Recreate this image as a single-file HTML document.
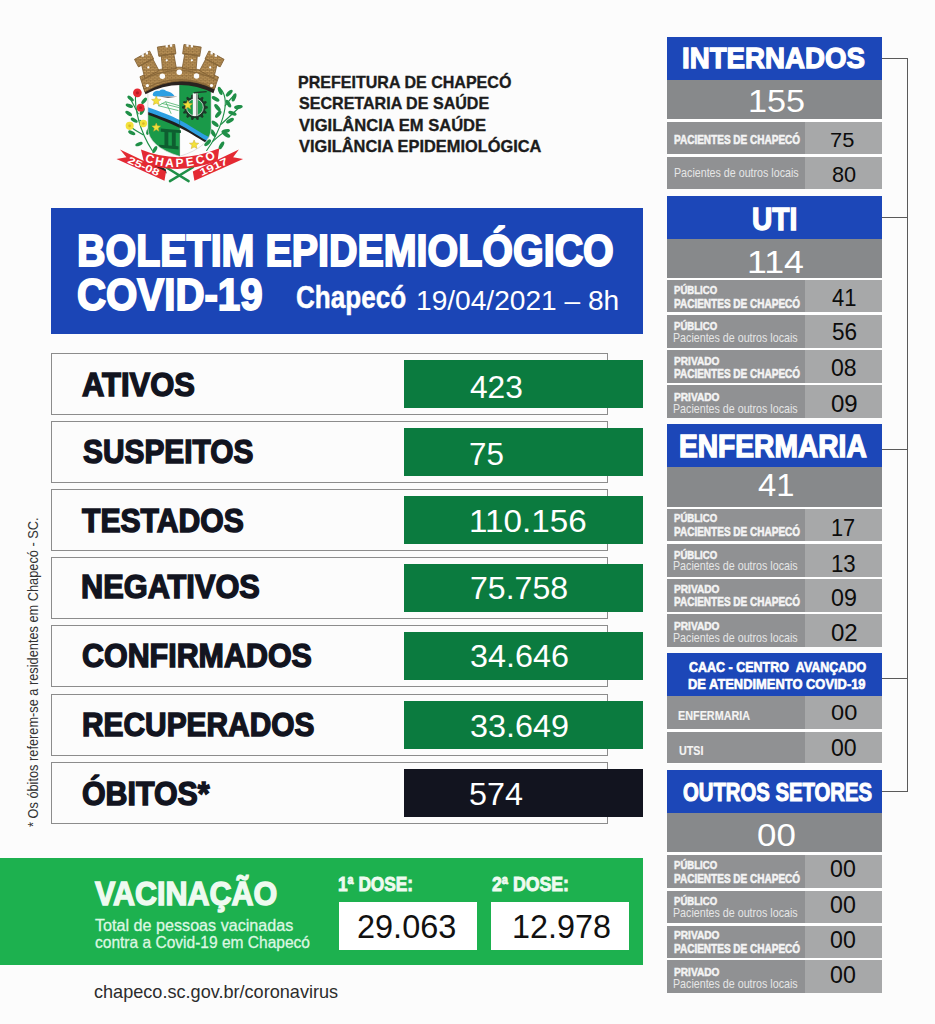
<!DOCTYPE html>
<html><head><meta charset="utf-8"><title>Boletim</title>
<style>
html,body{margin:0;padding:0}
body{width:935px;height:1024px;position:relative;overflow:hidden;background:#fcfcfc;font-family:"Liberation Sans",sans-serif}
.r{position:absolute}
.t{position:absolute;white-space:pre;line-height:1;transform-origin:0 0}
</style></head><body>
<div class="r" style="left:51.0px;top:207.5px;width:592.0px;height:126.8px;background:#1b45b6;"></div>
<div class="r" style="left:51.0px;top:353.0px;width:556.5px;height:61.5px;background:transparent;border:1px solid #8c8c8c;box-sizing:border-box;"></div>
<div class="r" style="left:404.0px;top:360.1px;width:239.0px;height:48.0px;background:#0b7b3f;"></div>
<div class="r" style="left:51.0px;top:421.0px;width:556.5px;height:61.5px;background:transparent;border:1px solid #8c8c8c;box-sizing:border-box;"></div>
<div class="r" style="left:404.0px;top:428.1px;width:239.0px;height:48.0px;background:#0b7b3f;"></div>
<div class="r" style="left:51.0px;top:489.0px;width:556.5px;height:61.5px;background:transparent;border:1px solid #8c8c8c;box-sizing:border-box;"></div>
<div class="r" style="left:404.0px;top:496.1px;width:239.0px;height:48.0px;background:#0b7b3f;"></div>
<div class="r" style="left:51.0px;top:557.0px;width:556.5px;height:61.5px;background:transparent;border:1px solid #8c8c8c;box-sizing:border-box;"></div>
<div class="r" style="left:404.0px;top:563.8px;width:239.0px;height:48.0px;background:#0b7b3f;"></div>
<div class="r" style="left:51.0px;top:625.0px;width:556.5px;height:61.5px;background:transparent;border:1px solid #8c8c8c;box-sizing:border-box;"></div>
<div class="r" style="left:404.0px;top:631.8px;width:239.0px;height:48.0px;background:#0b7b3f;"></div>
<div class="r" style="left:51.0px;top:694.0px;width:556.5px;height:61.5px;background:transparent;border:1px solid #8c8c8c;box-sizing:border-box;"></div>
<div class="r" style="left:404.0px;top:700.9px;width:239.0px;height:48.0px;background:#0b7b3f;"></div>
<div class="r" style="left:51.0px;top:762.0px;width:556.5px;height:61.5px;background:transparent;border:1px solid #8c8c8c;box-sizing:border-box;"></div>
<div class="r" style="left:404.0px;top:768.8px;width:239.0px;height:48.0px;background:#12141f;"></div>
<div class="r" style="left:0.0px;top:857.5px;width:642.7px;height:107.5px;background:#1db14f;"></div>
<div class="r" style="left:338.7px;top:901.8px;width:138.3px;height:48.2px;background:#fff;"></div>
<div class="r" style="left:491.0px;top:901.8px;width:138.4px;height:48.2px;background:#fff;"></div>
<div class="r" style="left:667.2px;top:119.4px;width:214.8px;height:69.7px;background:#fff;"></div>
<div class="r" style="left:667.2px;top:278.2px;width:214.8px;height:139.5px;background:#fff;"></div>
<div class="r" style="left:667.2px;top:506.8px;width:214.8px;height:140.0px;background:#fff;"></div>
<div class="r" style="left:667.2px;top:696.0px;width:214.8px;height:67.5px;background:#fff;"></div>
<div class="r" style="left:667.2px;top:852.4px;width:214.8px;height:140.6px;background:#fff;"></div>
<div class="r" style="left:667.2px;top:37.0px;width:214.8px;height:42.8px;background:#1c47b8;"></div>
<div class="r" style="left:667.2px;top:79.8px;width:214.8px;height:39.6px;background:#87898b;"></div>
<div class="r" style="left:667.2px;top:122.0px;width:137.8px;height:31.8px;background:#909193;"></div>
<div class="r" style="left:805.0px;top:122.0px;width:77.0px;height:31.8px;background:#a7a8a9;"></div>
<div class="r" style="left:667.2px;top:157.0px;width:137.8px;height:32.1px;background:#909193;"></div>
<div class="r" style="left:805.0px;top:157.0px;width:77.0px;height:32.1px;background:#a7a8a9;"></div>
<div class="r" style="left:667.2px;top:196.0px;width:214.8px;height:42.6px;background:#1c47b8;"></div>
<div class="r" style="left:667.2px;top:238.6px;width:214.8px;height:39.6px;background:#87898b;"></div>
<div class="r" style="left:667.2px;top:280.2px;width:137.8px;height:32.3px;background:#909193;"></div>
<div class="r" style="left:805.0px;top:280.2px;width:77.0px;height:32.3px;background:#a7a8a9;"></div>
<div class="r" style="left:667.2px;top:315.4px;width:137.8px;height:32.3px;background:#909193;"></div>
<div class="r" style="left:805.0px;top:315.4px;width:77.0px;height:32.3px;background:#a7a8a9;"></div>
<div class="r" style="left:667.2px;top:350.0px;width:137.8px;height:33.0px;background:#909193;"></div>
<div class="r" style="left:805.0px;top:350.0px;width:77.0px;height:33.0px;background:#a7a8a9;"></div>
<div class="r" style="left:667.2px;top:385.4px;width:137.8px;height:32.3px;background:#909193;"></div>
<div class="r" style="left:805.0px;top:385.4px;width:77.0px;height:32.3px;background:#a7a8a9;"></div>
<div class="r" style="left:667.2px;top:424.0px;width:214.8px;height:42.8px;background:#1c47b8;"></div>
<div class="r" style="left:667.2px;top:466.8px;width:214.8px;height:40.0px;background:#87898b;"></div>
<div class="r" style="left:667.2px;top:509.0px;width:137.8px;height:32.4px;background:#909193;"></div>
<div class="r" style="left:805.0px;top:509.0px;width:77.0px;height:32.4px;background:#a7a8a9;"></div>
<div class="r" style="left:667.2px;top:544.0px;width:137.8px;height:32.6px;background:#909193;"></div>
<div class="r" style="left:805.0px;top:544.0px;width:77.0px;height:32.6px;background:#a7a8a9;"></div>
<div class="r" style="left:667.2px;top:579.0px;width:137.8px;height:32.7px;background:#909193;"></div>
<div class="r" style="left:805.0px;top:579.0px;width:77.0px;height:32.7px;background:#a7a8a9;"></div>
<div class="r" style="left:667.2px;top:614.4px;width:137.8px;height:32.3px;background:#909193;"></div>
<div class="r" style="left:805.0px;top:614.4px;width:77.0px;height:32.3px;background:#a7a8a9;"></div>
<div class="r" style="left:667.2px;top:653.3px;width:214.8px;height:42.7px;background:#1c47b8;"></div>
<div class="r" style="left:667.2px;top:696.0px;width:137.8px;height:32.5px;background:#909193;"></div>
<div class="r" style="left:805.0px;top:696.0px;width:77.0px;height:32.5px;background:#a7a8a9;"></div>
<div class="r" style="left:667.2px;top:731.8px;width:137.8px;height:31.7px;background:#909193;"></div>
<div class="r" style="left:805.0px;top:731.8px;width:77.0px;height:31.7px;background:#a7a8a9;"></div>
<div class="r" style="left:667.2px;top:770.3px;width:214.8px;height:42.7px;background:#1c47b8;"></div>
<div class="r" style="left:667.2px;top:813.0px;width:214.8px;height:39.4px;background:#87898b;"></div>
<div class="r" style="left:667.2px;top:855.3px;width:137.8px;height:32.3px;background:#909193;"></div>
<div class="r" style="left:805.0px;top:855.3px;width:77.0px;height:32.3px;background:#a7a8a9;"></div>
<div class="r" style="left:667.2px;top:890.6px;width:137.8px;height:32.2px;background:#909193;"></div>
<div class="r" style="left:805.0px;top:890.6px;width:77.0px;height:32.2px;background:#a7a8a9;"></div>
<div class="r" style="left:667.2px;top:925.6px;width:137.8px;height:32.0px;background:#909193;"></div>
<div class="r" style="left:805.0px;top:925.6px;width:77.0px;height:32.0px;background:#a7a8a9;"></div>
<div class="r" style="left:667.2px;top:960.4px;width:137.8px;height:32.4px;background:#909193;"></div>
<div class="r" style="left:805.0px;top:960.4px;width:77.0px;height:32.4px;background:#a7a8a9;"></div>
<div class="r" style="left:907.0px;top:57.7px;width:1.0px;height:734.3px;background:#5a5a5a;"></div>
<div class="r" style="left:882.0px;top:57.7px;width:26.0px;height:1.0px;background:#5a5a5a;"></div>
<div class="r" style="left:882.0px;top:216.5px;width:26.0px;height:1.0px;background:#5a5a5a;"></div>
<div class="r" style="left:882.0px;top:448.5px;width:26.0px;height:1.0px;background:#5a5a5a;"></div>
<div class="r" style="left:882.0px;top:678.2px;width:26.0px;height:1.0px;background:#5a5a5a;"></div>
<div class="r" style="left:882.0px;top:791.0px;width:26.0px;height:1.0px;background:#5a5a5a;"></div>
<svg class="r" style="left:110px;top:30px" width="150" height="165" viewBox="0 0 931 1024">
<g fill="none" stroke="#1f8f47" stroke-width="7" stroke-linecap="round">
<path d="M262,748 Q205,660 178,560 T160,395"/>
<path d="M205,650 Q160,625 125,600"/>
<path d="M185,560 Q200,570 208,582"/>
<path d="M175,520 Q150,470 125,425"/>
<path d="M600,748 Q665,660 700,545 T692,372"/>
<path d="M690,585 Q750,530 805,478"/>
<path d="M715,470 Q745,430 770,405"/>
<path d="M640,690 Q690,640 735,620"/>
</g>
<ellipse cx="128" cy="425" rx="24" ry="11" fill="#1f8f47" transform="rotate(40 128 425)"/>
<ellipse cx="120" cy="470" rx="24" ry="11" fill="#1f8f47" transform="rotate(20 120 470)"/>
<ellipse cx="116" cy="518" rx="24" ry="11" fill="#1f8f47" transform="rotate(35 116 518)"/>
<ellipse cx="212" cy="440" rx="24" ry="11" fill="#1f8f47" transform="rotate(-50 212 440)"/>
<ellipse cx="200" cy="505" rx="24" ry="11" fill="#1f8f47" transform="rotate(-60 200 505)"/>
<ellipse cx="135" cy="638" rx="24" ry="11" fill="#1f8f47" transform="rotate(25 135 638)"/>
<ellipse cx="180" cy="708" rx="24" ry="11" fill="#1f8f47" transform="rotate(-20 180 708)"/>
<ellipse cx="278" cy="742" rx="24" ry="11" fill="#1f8f47" transform="rotate(-60 278 742)"/>
<ellipse cx="238" cy="628" rx="24" ry="11" fill="#1f8f47" transform="rotate(-70 238 628)"/>
<ellipse cx="150" cy="560" rx="24" ry="11" fill="#1f8f47" transform="rotate(30 150 560)"/>
<ellipse cx="684" cy="378" rx="27" ry="12" fill="#1f8f47" transform="rotate(70 684 378)"/>
<ellipse cx="740" cy="392" rx="27" ry="12" fill="#1f8f47" transform="rotate(-45 740 392)"/>
<ellipse cx="770" cy="418" rx="27" ry="12" fill="#1f8f47" transform="rotate(-70 770 418)"/>
<ellipse cx="655" cy="427" rx="27" ry="12" fill="#1f8f47" transform="rotate(30 655 427)"/>
<ellipse cx="735" cy="457" rx="27" ry="12" fill="#1f8f47" transform="rotate(60 735 457)"/>
<ellipse cx="797" cy="478" rx="27" ry="12" fill="#1f8f47" transform="rotate(-10 797 478)"/>
<ellipse cx="667" cy="482" rx="27" ry="12" fill="#1f8f47" transform="rotate(50 667 482)"/>
<ellipse cx="760" cy="517" rx="27" ry="12" fill="#1f8f47" transform="rotate(20 760 517)"/>
<ellipse cx="672" cy="523" rx="27" ry="12" fill="#1f8f47" transform="rotate(-50 672 523)"/>
<ellipse cx="745" cy="562" rx="27" ry="12" fill="#1f8f47" transform="rotate(-30 745 562)"/>
<ellipse cx="652" cy="582" rx="27" ry="12" fill="#1f8f47" transform="rotate(40 652 582)"/>
<ellipse cx="718" cy="628" rx="27" ry="12" fill="#1f8f47" transform="rotate(-15 718 628)"/>
<ellipse cx="692" cy="716" rx="27" ry="12" fill="#1f8f47" transform="rotate(-60 692 716)"/>
<ellipse cx="606" cy="700" rx="27" ry="12" fill="#1f8f47" transform="rotate(-45 606 700)"/>
<ellipse cx="722" cy="650" rx="27" ry="12" fill="#1f8f47" transform="rotate(30 722 650)"/>
<ellipse cx="640" cy="640" rx="27" ry="12" fill="#1f8f47" transform="rotate(60 640 640)"/>
<circle cx="170" cy="390" r="27" fill="#e42a33"/>
<circle cx="190" cy="482" r="24" fill="#e42a33"/>
<circle cx="122" cy="595" r="25" fill="#f3e13a"/>
<circle cx="207" cy="580" r="23" fill="#f3e13a"/>
<circle cx="170" cy="390" r="10" fill="#b81c24"/><circle cx="190" cy="482" r="9" fill="#b81c24"/><circle cx="122" cy="595" r="9" fill="#d9b82a"/><circle cx="207" cy="580" r="8" fill="#d9b82a"/>
<defs><clipPath id="sh"><path d="M235,340 L235,610 Q240,725 432,784 Q624,725 628,610 L628,340 Z"/></clipPath></defs>
<g clip-path="url(#sh)">
<rect x="230" y="300" width="400" height="500" fill="#fdfdfd"/>
<path d="M432,300 L630,300 L630,690 C560,650 500,600 432,570 Z" fill="#1a9a49"/>
<path d="M230,490 C320,520 380,545 432,570 L432,800 L230,800 Z" fill="#1a9a49"/>
<path d="M265,400 Q270,375 305,378 Q325,360 350,378 Q385,385 400,410 L285,412 Q265,412 265,400Z" fill="#2c9fe2"/>
<path d="M300,412 L420,414 L360,420Z" fill="#333"/>
<g stroke="#4bb36b" stroke-width="5" fill="none"><path d="M300,470 L425,500"/><path d="M320,455 L430,482"/><path d="M345,445 L380,520"/><path d="M300,470 L345,445 L430,470"/></g>
<path d="M230,478 C320,508 380,533 432,558 S560,640 632,672 L632,712 C560,680 500,630 432,600 S320,552 230,520 Z" fill="#2c9fe2"/>
<path d="M230,508 C320,538 380,563 432,588 S560,670 632,702 L632,716 C560,684 500,636 432,606 S320,556 230,524 Z" fill="#1f1f1f"/>
<polygon points="607,474 607,486 592,490 590,499 601,510 596,520 581,517 576,525 581,539 572,546 560,537 551,541 550,557 539,559 532,546 522,546 515,559 504,557 503,541 494,537 482,546 473,539 478,525 473,517 458,520 453,510 464,499 462,490 447,486 447,474 462,470 464,461 453,450 458,440 473,443 478,435 473,421 482,414 494,423 503,419 504,403 515,401 522,414 532,414 539,401 550,403 551,419 560,423 572,414 581,421 576,435 581,443 596,440 601,450 590,461 592,470" fill="#1c3a28"/>
<circle cx="527" cy="480" r="52" fill="#1a9a49"/>
<circle cx="527" cy="480" r="52" fill="none" stroke="#dfe9e2" stroke-width="5"/>
<rect x="514" y="392" width="30" height="142" fill="#f4f4f4"/><rect x="534" y="392" width="10" height="142" fill="#8c9a90"/>
<path d="M520,385 L600,378 L600,386 L520,394Z" fill="#1c3a28"/>
<g fill="#0e5e30"><path d="M315,612 L440,622 L440,640 L315,632Z"/><rect x="338" y="630" width="24" height="92"/><rect x="384" y="634" width="24" height="92"/><path d="M305,712 L425,722 L425,742 L305,730Z"/></g>
<line x1="432" y1="300" x2="432" y2="800" stroke="#0e5e30" stroke-width="3"/>
</g>
<polygon points="287,410 295,429 316,431 300,444 305,464 287,454 269,464 274,444 258,431 279,429" fill="#f3e13a" stroke="#c9a82a" stroke-width="3"/>
<polygon points="483,436 491,455 512,457 496,470 501,490 483,480 465,490 470,470 454,457 475,455" fill="#f3e13a" stroke="#c9a82a" stroke-width="3"/>
<polygon points="287,577 294,595 314,596 299,609 303,628 287,618 271,628 275,609 260,596 280,595" fill="#f3e13a" stroke="#c9a82a" stroke-width="3"/>
<polygon points="522,682 530,701 551,703 535,716 540,736 522,726 504,736 509,716 493,703 514,701" fill="#f3e13a" stroke="#c9a82a" stroke-width="3"/>
<path d="M235,370 L235,610 Q240,725 432,784 Q624,725 628,610 L628,370" fill="none" stroke="#cfcfcf" stroke-width="4"/>
<defs><pattern id="bk" width="26" height="20" patternUnits="userSpaceOnUse"><rect width="26" height="20" fill="#c29a5e"/><path d="M0,1 H26 M0,11 H26 M6,1 V11 M19,11 V20" stroke="#7d5b2e" stroke-width="3.5"/></pattern></defs>
<path d="M200,340 Q430,228 660,340 L642,392 Q430,288 220,398 Z" fill="#2a2320"/>
<g fill="url(#bk)" stroke="#7d5b2e" stroke-width="5" stroke-linejoin="round">
<path d="M186,290 Q430,170 674,292 L648,366 Q430,258 216,384 Z"/>
<polygon points="152,182 246,130 270,178 176,228"/>
<polygon points="708,182 614,130 590,178 684,228"/>
<polygon points="196,216 266,180 304,252 216,300"/>
<polygon points="664,216 594,180 556,252 644,300"/>
<polygon points="294,106 401,90 409,146 303,162"/>
<polygon points="566,106 459,90 451,146 557,162"/>
<polygon points="318,158 396,148 412,238 326,248"/>
<polygon points="542,158 464,148 448,238 534,248"/>
</g>
<g fill="none" stroke="#8a693a" stroke-width="8">
<path d="M196,310 Q430,194 664,312"/><path d="M212,366 Q430,252 648,362"/>
<path d="M176,228 L270,178"/>
<path d="M684,228 L590,178"/>
<path d="M303,162 L409,146"/>
<path d="M557,162 L451,146"/>
</g>
<rect x="196" y="150" width="14" height="16" fill="#fbfbfb"/>
<rect x="650" y="150" width="14" height="16" fill="#fbfbfb"/>
<rect x="222" y="136" width="14" height="16" fill="#fbfbfb"/>
<rect x="624" y="136" width="14" height="16" fill="#fbfbfb"/>
<rect x="345" y="92" width="14" height="16" fill="#fbfbfb"/>
<rect x="501" y="92" width="14" height="16" fill="#fbfbfb"/>
<rect x="372" y="88" width="14" height="16" fill="#fbfbfb"/>
<rect x="474" y="88" width="14" height="16" fill="#fbfbfb"/>
<circle cx="325" cy="287" r="17" fill="#fbfbfb"/>
<circle cx="430" cy="262" r="17" fill="#fbfbfb"/>
<circle cx="537" cy="285" r="17" fill="#fbfbfb"/>
<circle cx="238" cy="232" r="7" fill="#fbfbfb"/>
<circle cx="622" cy="232" r="7" fill="#fbfbfb"/>
<circle cx="352" cy="188" r="7" fill="#fbfbfb"/>
<circle cx="508" cy="188" r="7" fill="#fbfbfb"/>
<circle cx="232" cy="345" r="10" fill="#fbfbfb"/>
<circle cx="630" cy="345" r="10" fill="#fbfbfb"/>
<g stroke="#1f8f47" stroke-width="15" stroke-linecap="round"><line x1="345" y1="850" x2="488" y2="938"/><line x1="515" y1="852" x2="372" y2="938"/></g>
<polygon points="208,795 345,862 352,890 300,862 240,848" fill="#222"/>
<polygon points="62,742 348,878 338,936 40,800 102,790" fill="#e42a33"/>
<polygon points="800,742 514,878 524,936 826,800 764,790" fill="#e42a33"/>
<path d="M192,742 Q430,840 678,734 L668,812 Q430,905 212,826 Z" fill="#e42a33"/>
<g font-family="Liberation Sans, sans-serif" font-weight="700" fill="#fff" text-anchor="middle" font-size="74">
<text transform="translate(239,823) rotate(18.1)">C</text>
<text transform="translate(303,840) rotate(11.4)">H</text>
<text transform="translate(368,849) rotate(4.6)">A</text>
<text transform="translate(433,850) rotate(-2.3)">P</text>
<text transform="translate(499,844) rotate(-9.0)">E</text>
<text transform="translate(565,830) rotate(-15.3)">C</text>
<text transform="translate(631,808) rotate(-21.3)">O</text>
</g>
<g font-family="Liberation Sans, sans-serif" font-weight="700" fill="#fff">
<text font-size="62" transform="translate(106,822) rotate(24.5)" textLength="208" lengthAdjust="spacingAndGlyphs">25-08</text>
<text font-size="62" transform="translate(568,906) rotate(-24.5)" textLength="185" lengthAdjust="spacingAndGlyphs">1917</text>
</g>
</svg>
<!--VTEXT-->
<div class="t" style="left:297.80px;top:74.68px;font-size:16.64px;font-weight:700;color:#1c1c1c;transform:scaleX(0.9652);-webkit-text-stroke:0.35px #1c1c1c;">PREFEITURA DE CHAPECÓ</div>
<div class="t" style="left:298.77px;top:96.28px;font-size:16.64px;font-weight:700;color:#1c1c1c;transform:scaleX(0.9665);-webkit-text-stroke:0.35px #1c1c1c;">SECRETARIA DE SAÚDE</div>
<div class="t" style="left:298.77px;top:117.88px;font-size:16.64px;font-weight:700;color:#1c1c1c;transform:scaleX(0.9963);-webkit-text-stroke:0.35px #1c1c1c;">VIGILÂNCIA EM SAÚDE</div>
<div class="t" style="left:298.77px;top:139.48px;font-size:16.64px;font-weight:700;color:#1c1c1c;transform:scaleX(0.9856);-webkit-text-stroke:0.35px #1c1c1c;">VIGILÂNCIA EPIDEMIOLÓGICA</div>
<div class="t" style="left:77.10px;top:229.34px;font-size:44.68px;font-weight:700;color:#fff;transform:scaleX(0.8828);-webkit-text-stroke:1.96px #fff;">BOLETIM EPIDEMIOLÓGICO</div>
<div class="t" style="left:77.48px;top:272.96px;font-size:44.54px;font-weight:700;color:#fff;transform:scaleX(0.9038);-webkit-text-stroke:1.96px #fff;">COVID-19</div>
<div class="t" style="left:295.89px;top:280.92px;font-size:32.27px;font-weight:700;color:#fff;transform:scaleX(0.8082);-webkit-text-stroke:0.50px #fff;">Chapecó</div>
<div class="t" style="left:415.71px;top:287.77px;font-size:26.86px;font-weight:400;color:#fff;transform:scaleX(1.0464);">19/04/2021 – 8h</div>
<div class="t" style="left:82.38px;top:367.51px;font-size:33.47px;font-weight:700;color:#12141f;transform:scaleX(0.9257);-webkit-text-stroke:1.47px #12141f;">ATIVOS</div>
<div class="t" style="left:469.50px;top:371.96px;font-size:31.57px;font-weight:400;color:#fff;transform:scaleX(1.0037);">423</div>
<div class="t" style="left:82.96px;top:434.85px;font-size:33.88px;font-weight:700;color:#12141f;transform:scaleX(0.8812);-webkit-text-stroke:1.49px #12141f;">SUSPEITOS</div>
<div class="t" style="left:469.20px;top:439.39px;font-size:31.43px;font-weight:400;color:#fff;transform:scaleX(0.9980);">75</div>
<div class="t" style="left:82.46px;top:503.73px;font-size:33.34px;font-weight:700;color:#12141f;transform:scaleX(0.9039);-webkit-text-stroke:1.46px #12141f;">TESTADOS</div>
<div class="t" style="left:468.91px;top:506.42px;font-size:31.86px;font-weight:400;color:#fff;transform:scaleX(1.0433);">110.156</div>
<div class="t" style="left:81.35px;top:569.89px;font-size:33.61px;font-weight:700;color:#12141f;transform:scaleX(0.9151);-webkit-text-stroke:1.48px #12141f;">NEGATIVOS</div>
<div class="t" style="left:470.18px;top:572.69px;font-size:31.43px;font-weight:400;color:#fff;transform:scaleX(1.0212);">75.758</div>
<div class="t" style="left:82.46px;top:638.89px;font-size:33.61px;font-weight:700;color:#12141f;transform:scaleX(0.9052);-webkit-text-stroke:1.48px #12141f;">CONFIRMADOS</div>
<div class="t" style="left:469.59px;top:641.42px;font-size:31.86px;font-weight:400;color:#fff;transform:scaleX(1.0148);">34.646</div>
<div class="t" style="left:81.57px;top:708.31px;font-size:33.47px;font-weight:700;color:#12141f;transform:scaleX(0.8925);-webkit-text-stroke:1.47px #12141f;">RECUPERADOS</div>
<div class="t" style="left:469.59px;top:709.80px;font-size:32.00px;font-weight:400;color:#fff;transform:scaleX(1.0106);">33.649</div>
<div class="t" style="left:82.46px;top:776.93px;font-size:33.34px;font-weight:700;color:#12141f;transform:scaleX(0.9109);-webkit-text-stroke:1.46px #12141f;">ÓBITOS*</div>
<div class="t" style="left:469.09px;top:777.80px;font-size:32.00px;font-weight:400;color:#fff;transform:scaleX(1.0098);">574</div>
<div class="t" style="left:94.97px;top:877.81px;font-size:32.79px;font-weight:700;color:#eefaf0;transform:scaleX(0.9293);-webkit-text-stroke:1.44px #eefaf0;">VACINAÇÃO</div>
<div class="t" style="left:94.65px;top:917.31px;font-size:16.28px;font-weight:400;color:#dcf7e2;transform:scaleX(0.9925);-webkit-text-stroke:0.30px #dcf7e2;">Total de pessoas vacinadas</div>
<div class="t" style="left:94.64px;top:933.71px;font-size:16.28px;font-weight:400;color:#dcf7e2;transform:scaleX(0.9548);-webkit-text-stroke:0.30px #dcf7e2;">contra a Covid-19 em Chapecó</div>
<div class="t" style="left:338.19px;top:874.76px;font-size:19.54px;font-weight:700;color:#eefaf0;transform:scaleX(0.8845);-webkit-text-stroke:0.86px #eefaf0;">1<span style="font-size:.62em;line-height:0;position:relative;top:-.52em">a</span> DOSE:</div>
<div class="t" style="left:492.19px;top:874.76px;font-size:19.54px;font-weight:700;color:#eefaf0;transform:scaleX(0.9071);-webkit-text-stroke:0.86px #eefaf0;">2<span style="font-size:.62em;line-height:0;position:relative;top:-.52em">a</span> DOSE:</div>
<div class="t" style="left:356.71px;top:910.67px;font-size:32.86px;font-weight:400;color:#111;transform:scaleX(0.9879);">29.063</div>
<div class="t" style="left:512.03px;top:910.67px;font-size:32.86px;font-weight:400;color:#111;transform:scaleX(0.9836);">12.978</div>
<div class="t" style="left:94.00px;top:982.56px;font-size:18.17px;font-weight:400;color:#2c2c2c;transform:scaleX(0.9967);">chapeco.sc.gov.br/coronavirus</div>
<div class="t" style="left:25.99px;top:827.00px;font-size:14.24px;font-weight:400;color:#333;transform:rotate(-90deg) scaleX(0.8974)">* Os óbitos referem-se a residentes em Chapecó - SC.</div>
<div class="t" style="left:681.77px;top:42.79px;font-size:30.06px;font-weight:700;color:#fff;transform:scaleX(0.9211);-webkit-text-stroke:1.32px #fff;">INTERNADOS</div>
<div class="t" style="left:747.87px;top:84.80px;font-size:32.00px;font-weight:400;color:#fff;transform:scaleX(1.0673);">155</div>
<div class="t" style="left:829.74px;top:129.51px;font-size:20.57px;font-weight:400;color:#0c0c0c;transform:scaleX(1.0636);">75</div>
<div class="t" style="left:674.22px;top:133.62px;font-size:12.02px;font-weight:700;color:#f4f4f4;transform:scaleX(0.8336);-webkit-text-stroke:0.53px #f4f4f4;">PACIENTES DE CHAPECÓ</div>
<div class="t" style="left:832.00px;top:164.22px;font-size:21.86px;font-weight:400;color:#0c0c0c;transform:scaleX(0.9939);">80</div>
<div class="t" style="left:673.87px;top:166.50px;font-size:12.94px;font-weight:400;color:#e6e6e6;transform:scaleX(0.8254);">Pacientes de outros locais</div>
<div class="t" style="left:751.51px;top:205.48px;font-size:30.88px;font-weight:700;color:#fff;transform:scaleX(0.9115);-webkit-text-stroke:1.36px #fff;">UTI</div>
<div class="t" style="left:747.46px;top:247.02px;font-size:31.86px;font-weight:400;color:#fff;transform:scaleX(1.1195);">114</div>
<div class="t" style="left:832.00px;top:287.43px;font-size:23.14px;font-weight:400;color:#0c0c0c;transform:scaleX(0.9493);">41</div>
<div class="t" style="left:674.21px;top:284.87px;font-size:10.93px;font-weight:700;color:#f4f4f4;transform:scaleX(0.8777);-webkit-text-stroke:0.48px #f4f4f4;">PÚBLICO</div>
<div class="t" style="left:674.22px;top:298.42px;font-size:12.02px;font-weight:700;color:#f4f4f4;transform:scaleX(0.8336);-webkit-text-stroke:0.53px #f4f4f4;">PACIENTES DE CHAPECÓ</div>
<div class="t" style="left:832.00px;top:321.46px;font-size:23.57px;font-weight:400;color:#0c0c0c;transform:scaleX(0.9577);">56</div>
<div class="t" style="left:674.21px;top:321.07px;font-size:10.93px;font-weight:700;color:#f4f4f4;transform:scaleX(0.8777);-webkit-text-stroke:0.48px #f4f4f4;">PÚBLICO</div>
<div class="t" style="left:673.47px;top:331.50px;font-size:12.94px;font-weight:400;color:#e6e6e6;transform:scaleX(0.8254);">Pacientes de outros locais</div>
<div class="t" style="left:830.60px;top:357.26px;font-size:23.57px;font-weight:400;color:#0c0c0c;transform:scaleX(0.9807);">08</div>
<div class="t" style="left:674.22px;top:355.67px;font-size:10.93px;font-weight:700;color:#f4f4f4;transform:scaleX(0.9272);-webkit-text-stroke:0.48px #f4f4f4;">PRIVADO</div>
<div class="t" style="left:674.22px;top:368.22px;font-size:12.02px;font-weight:700;color:#f4f4f4;transform:scaleX(0.8336);-webkit-text-stroke:0.53px #f4f4f4;">PACIENTES DE CHAPECÓ</div>
<div class="t" style="left:830.60px;top:393.06px;font-size:23.57px;font-weight:400;color:#0c0c0c;transform:scaleX(1.0197);">09</div>
<div class="t" style="left:674.22px;top:392.07px;font-size:10.93px;font-weight:700;color:#f4f4f4;transform:scaleX(0.9272);-webkit-text-stroke:0.48px #f4f4f4;">PRIVADO</div>
<div class="t" style="left:673.47px;top:402.50px;font-size:12.94px;font-weight:400;color:#e6e6e6;transform:scaleX(0.8254);">Pacientes de outros locais</div>
<div class="t" style="left:679.39px;top:431.88px;font-size:30.88px;font-weight:700;color:#fff;transform:scaleX(0.9121);-webkit-text-stroke:1.36px #fff;">ENFERMARIA</div>
<div class="t" style="left:758.00px;top:469.86px;font-size:31.57px;font-weight:400;color:#fff;transform:scaleX(1.0361);">41</div>
<div class="t" style="left:831.09px;top:515.50px;font-size:24.00px;font-weight:400;color:#0c0c0c;transform:scaleX(0.9074);">17</div>
<div class="t" style="left:674.21px;top:512.67px;font-size:10.93px;font-weight:700;color:#f4f4f4;transform:scaleX(0.8777);-webkit-text-stroke:0.48px #f4f4f4;">PÚBLICO</div>
<div class="t" style="left:674.22px;top:526.22px;font-size:12.02px;font-weight:700;color:#f4f4f4;transform:scaleX(0.8336);-webkit-text-stroke:0.53px #f4f4f4;">PACIENTES DE CHAPECÓ</div>
<div class="t" style="left:831.06px;top:552.74px;font-size:23.71px;font-weight:400;color:#0c0c0c;transform:scaleX(0.9372);">13</div>
<div class="t" style="left:674.21px;top:549.67px;font-size:10.93px;font-weight:700;color:#f4f4f4;transform:scaleX(0.8777);-webkit-text-stroke:0.48px #f4f4f4;">PÚBLICO</div>
<div class="t" style="left:673.47px;top:560.10px;font-size:12.94px;font-weight:400;color:#e6e6e6;transform:scaleX(0.8254);">Pacientes de outros locais</div>
<div class="t" style="left:830.60px;top:586.17px;font-size:23.86px;font-weight:400;color:#0c0c0c;transform:scaleX(0.9748);">09</div>
<div class="t" style="left:674.22px;top:583.67px;font-size:10.93px;font-weight:700;color:#f4f4f4;transform:scaleX(0.9272);-webkit-text-stroke:0.48px #f4f4f4;">PRIVADO</div>
<div class="t" style="left:674.22px;top:596.22px;font-size:12.02px;font-weight:700;color:#f4f4f4;transform:scaleX(0.8336);-webkit-text-stroke:0.53px #f4f4f4;">PACIENTES DE CHAPECÓ</div>
<div class="t" style="left:830.60px;top:622.46px;font-size:23.57px;font-weight:400;color:#0c0c0c;transform:scaleX(1.0197);">02</div>
<div class="t" style="left:674.22px;top:621.07px;font-size:10.93px;font-weight:700;color:#f4f4f4;transform:scaleX(0.9272);-webkit-text-stroke:0.48px #f4f4f4;">PRIVADO</div>
<div class="t" style="left:673.47px;top:631.50px;font-size:12.94px;font-weight:400;color:#e6e6e6;transform:scaleX(0.8254);">Pacientes de outros locais</div>
<div class="t" style="left:688.77px;top:660.01px;font-size:14.21px;font-weight:700;color:#fff;transform:scaleX(0.8790);-webkit-text-stroke:0.62px #fff;">CAAC - CENTRO &nbsp;AVANÇADO</div>
<div class="t" style="left:688.28px;top:677.01px;font-size:14.21px;font-weight:700;color:#fff;transform:scaleX(0.9084);-webkit-text-stroke:0.62px #fff;">DE ATENDIMENTO COVID-19</div>
<div class="t" style="left:830.60px;top:701.19px;font-size:22.71px;font-weight:400;color:#0c0c0c;transform:scaleX(1.0395);">00</div>
<div class="t" style="left:678.27px;top:710.49px;font-size:12.28px;font-weight:700;color:#f4f4f4;transform:scaleX(0.8823);-webkit-text-stroke:0.15px #f4f4f4;">ENFERMARIA</div>
<div class="t" style="left:830.60px;top:736.76px;font-size:23.57px;font-weight:400;color:#0c0c0c;transform:scaleX(0.9807);">00</div>
<div class="t" style="left:679.07px;top:745.29px;font-size:12.28px;font-weight:700;color:#f4f4f4;transform:scaleX(0.8742);-webkit-text-stroke:0.15px #f4f4f4;">UTSI</div>
<div class="t" style="left:682.66px;top:780.36px;font-size:25.96px;font-weight:700;color:#fff;transform:scaleX(0.7818);-webkit-text-stroke:1.14px #fff;">OUTROS SETORES</div>
<div class="t" style="left:756.87px;top:820.69px;font-size:30.71px;font-weight:400;color:#fff;transform:scaleX(1.1348);">00</div>
<div class="t" style="left:830.20px;top:858.24px;font-size:23.71px;font-weight:400;color:#0c0c0c;transform:scaleX(0.9778);">00</div>
<div class="t" style="left:674.21px;top:859.97px;font-size:10.93px;font-weight:700;color:#f4f4f4;transform:scaleX(0.8777);-webkit-text-stroke:0.48px #f4f4f4;">PÚBLICO</div>
<div class="t" style="left:674.22px;top:872.52px;font-size:12.02px;font-weight:700;color:#f4f4f4;transform:scaleX(0.8336);-webkit-text-stroke:0.53px #f4f4f4;">PACIENTES DE CHAPECÓ</div>
<div class="t" style="left:830.20px;top:893.54px;font-size:23.71px;font-weight:400;color:#0c0c0c;transform:scaleX(0.9778);">00</div>
<div class="t" style="left:674.21px;top:896.27px;font-size:10.93px;font-weight:700;color:#f4f4f4;transform:scaleX(0.8777);-webkit-text-stroke:0.48px #f4f4f4;">PÚBLICO</div>
<div class="t" style="left:673.47px;top:906.70px;font-size:12.94px;font-weight:400;color:#e6e6e6;transform:scaleX(0.8254);">Pacientes de outros locais</div>
<div class="t" style="left:830.20px;top:928.54px;font-size:23.71px;font-weight:400;color:#0c0c0c;transform:scaleX(0.9778);">00</div>
<div class="t" style="left:674.22px;top:930.27px;font-size:10.93px;font-weight:700;color:#f4f4f4;transform:scaleX(0.9272);-webkit-text-stroke:0.48px #f4f4f4;">PRIVADO</div>
<div class="t" style="left:674.22px;top:942.82px;font-size:12.02px;font-weight:700;color:#f4f4f4;transform:scaleX(0.8336);-webkit-text-stroke:0.53px #f4f4f4;">PACIENTES DE CHAPECÓ</div>
<div class="t" style="left:830.20px;top:964.34px;font-size:23.71px;font-weight:400;color:#0c0c0c;transform:scaleX(0.9778);">00</div>
<div class="t" style="left:674.22px;top:967.07px;font-size:10.93px;font-weight:700;color:#f4f4f4;transform:scaleX(0.9272);-webkit-text-stroke:0.48px #f4f4f4;">PRIVADO</div>
<div class="t" style="left:673.47px;top:977.50px;font-size:12.94px;font-weight:400;color:#e6e6e6;transform:scaleX(0.8254);">Pacientes de outros locais</div>
</body></html>
